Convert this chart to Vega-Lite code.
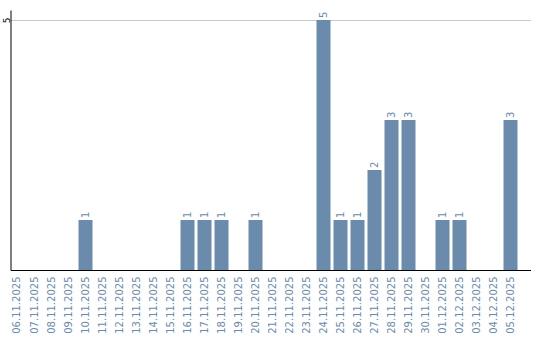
{
  "$schema": "https://vega.github.io/schema/vega-lite/v6.json",
  "width": 520,
  "height": 260,
  "autosize": {"type": "none"},
  "padding": {"left": 10.5, "top": 10, "right": 9.5, "bottom": 70},
  "background": "white",
  "config": {"view": {"stroke": null}, "font": "DejaVu Sans"},
  "data": {"values": [
    {"date": "06.11.2025", "count": 0},
    {"date": "07.11.2025", "count": 0},
    {"date": "08.11.2025", "count": 0},
    {"date": "09.11.2025", "count": 0},
    {"date": "10.11.2025", "count": 1},
    {"date": "11.11.2025", "count": 0},
    {"date": "12.11.2025", "count": 0},
    {"date": "13.11.2025", "count": 0},
    {"date": "14.11.2025", "count": 0},
    {"date": "15.11.2025", "count": 0},
    {"date": "16.11.2025", "count": 1},
    {"date": "17.11.2025", "count": 1},
    {"date": "18.11.2025", "count": 1},
    {"date": "19.11.2025", "count": 0},
    {"date": "20.11.2025", "count": 1},
    {"date": "21.11.2025", "count": 0},
    {"date": "22.11.2025", "count": 0},
    {"date": "23.11.2025", "count": 0},
    {"date": "24.11.2025", "count": 5},
    {"date": "25.11.2025", "count": 1},
    {"date": "26.11.2025", "count": 1},
    {"date": "27.11.2025", "count": 2},
    {"date": "28.11.2025", "count": 3},
    {"date": "29.11.2025", "count": 3},
    {"date": "30.11.2025", "count": 0},
    {"date": "01.12.2025", "count": 1},
    {"date": "02.12.2025", "count": 1},
    {"date": "03.12.2025", "count": 0},
    {"date": "04.12.2025", "count": 0},
    {"date": "05.12.2025", "count": 3}
  ]},
  "encoding": {
    "x": {
      "field": "date", "type": "nominal", "sort": null,
      "scale": {"paddingInner": 0.1765, "paddingOuter": 0.382, "align": 0},
      "axis": {
        "title": null, "labelAngle": 270, "labelAlign": "right", "labelBaseline": "middle",
        "labelPadding": 6, "ticks": false, "domainColor": "#000000", "domainWidth": 1,
        "labelColor": "#6a8bab", "labelFontSize": 10, "labelFont": "DejaVu Sans"
      }
    },
    "y": {
      "field": "count", "type": "quantitative",
      "scale": {"domain": [0, 5.2], "nice": false, "zero": true},
      "axis": {
        "title": null, "values": [5], "ticks": false, "grid": true, "gridColor": "#c8c8c8",
        "domainColor": "#000000", "labelAngle": 270, "labelAlign": "center",
        "labelBaseline": "middle", "labelPadding": 4, "labelColor": "#000000",
        "labelFontSize": 9, "labelFont": "DejaVu Sans"
      }
    }
  },
  "layer": [
    {"mark": {"type": "bar", "color": "#6a8bab"}},
    {
      "transform": [{"filter": "datum.count > 0"}],
      "mark": {"type": "text", "angle": 270, "align": "left", "baseline": "middle", "dx": 2,
               "color": "#6a8bab", "fontSize": 10, "font": "DejaVu Sans"},
      "encoding": {"text": {"field": "count", "type": "quantitative"}}
    }
  ]
}
